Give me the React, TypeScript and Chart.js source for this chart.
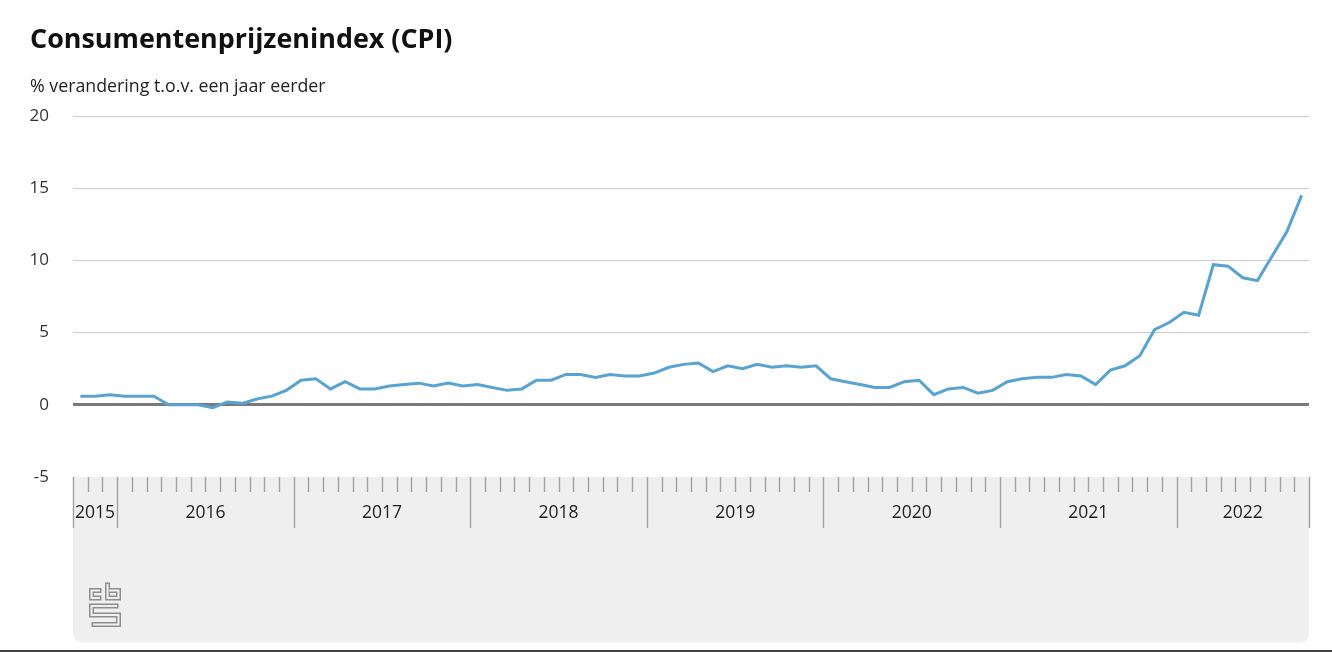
import React, { useEffect, useRef } from 'react';
import { Chart, registerables } from 'chart.js';

Chart.register(...registerables);

const titleText = 'Consumentenprijzenindex (CPI)';
const subtitleText = '% verandering t.o.v. een jaar eerder';

const years = ['2015', '2016', '2017', '2018', '2019', '2020', '2021', '2022'];
const monthNames = ['jan', 'feb', 'mrt', 'apr', 'mei', 'jun', 'jul', 'aug', 'sep', 'okt', 'nov', 'dec'];
const firstMonthIndex = 9; // series starts in okt 2015

const cpi2015 = [0.6, 0.6, 0.7];
const cpi2016 = [0.6, 0.6, 0.6, 0.0, 0.0, 0.0, -0.2, 0.2, 0.1, 0.4, 0.6, 1.0];
const cpi2017 = [1.7, 1.8, 1.1, 1.6, 1.1, 1.1, 1.3, 1.4, 1.5, 1.3, 1.5, 1.3];
const cpi2018 = [1.4, 1.2, 1.0, 1.1, 1.7, 1.7, 2.1, 2.1, 1.9, 2.1, 2.0, 2.0];
const cpi2019 = [2.2, 2.6, 2.8, 2.9, 2.3, 2.7, 2.5, 2.8, 2.6, 2.7, 2.6, 2.7];
const cpi2020 = [1.8, 1.6, 1.4, 1.2, 1.2, 1.6, 1.7, 0.7, 1.1, 1.2, 0.8, 1.0];
const cpi2021 = [1.6, 1.8, 1.9, 1.9, 2.1, 2.0, 1.4, 2.4, 2.7, 3.4, 5.2, 5.7];
const cpi2022 = [6.4, 6.2, 9.7, 9.6, 8.8, 8.6, 10.3, 12.0, 14.5];

const seriesByYear = [cpi2015, cpi2016, cpi2017, cpi2018, cpi2019, cpi2020, cpi2021, cpi2022];

const yMin = -5;
const yMax = 20;
const yStep = 5;

// derived
const labels: string[] = [];
const values: number[] = [];
seriesByYear.forEach((arr, yi) => {
  arr.forEach((v, mi) => {
    const m = yi === 0 ? firstMonthIndex + mi : mi;
    labels.push(monthNames[m] + ' ' + years[yi]);
    values.push(v);
  });
});
const monthsPerYear = seriesByYear.map((a) => a.length);

const FONT = '"Open Sans", "Noto Sans", sans-serif';

const cbsPlugin = {
  id: 'cbsFrame',
  beforeDraw(chart: any) {
    const { ctx, chartArea, scales } = chart;
    const x = scales.x;
    const n = labels.length;
    const left = chartArea.left;
    const right = chartArea.right;
    const top = chartArea.bottom;
    const bottom = 642.5;
    const r = 10;
    ctx.save();
    // grey axis panel
    ctx.fillStyle = '#efefef';
    ctx.beginPath();
    ctx.moveTo(left, top);
    ctx.lineTo(right, top);
    ctx.lineTo(right, bottom - r);
    ctx.quadraticCurveTo(right, bottom, right - r, bottom);
    ctx.lineTo(left + r, bottom);
    ctx.quadraticCurveTo(left, bottom, left, bottom - r);
    ctx.closePath();
    ctx.fill();

    const boundary = (i: number) => {
      if (i <= 0) return left;
      if (i >= n) return right;
      return (x.getPixelForValue(i - 1) + x.getPixelForValue(i)) / 2;
    };
    const yearStarts: number[] = [0];
    monthsPerYear.forEach((c, i) => yearStarts.push(yearStarts[i] + c));

    ctx.strokeStyle = '#a0a0a0';
    ctx.lineWidth = 1.4;
    for (let i = 0; i <= n; i++) {
      const bx = Math.round(boundary(i)) + 0.5;
      const major = yearStarts.includes(i);
      ctx.beginPath();
      ctx.moveTo(bx, top);
      ctx.lineTo(bx, major ? top + 51 : top + 15);
      ctx.stroke();
    }
    // year labels
    ctx.fillStyle = '#222';
    ctx.font = '17.5px ' + FONT;
    ctx.textAlign = 'center';
    ctx.textBaseline = 'middle';
    years.forEach((yr, i) => {
      const cx = (boundary(yearStarts[i]) + boundary(yearStarts[i + 1])) / 2;
      ctx.fillText(yr, cx, top + 36);
    });

    // cbs logo
    const outline = (pts: number[][]) => {
      ctx.lineJoin = 'miter';
      ctx.lineCap = 'butt';
      ctx.strokeStyle = '#8e8e8e';
      ctx.lineWidth = 5;
      ctx.beginPath();
      pts.forEach((p, i) => (i ? ctx.lineTo(p[0], p[1]) : ctx.moveTo(p[0], p[1])));
      ctx.stroke();
      const inner = pts.map((p) => p.slice());
      const shorten = (a: number[], b: number[]) => {
        const dx = b[0] - a[0];
        const dy = b[1] - a[1];
        const len = Math.hypot(dx, dy) || 1;
        a[0] += (dx / len) * 1.6;
        a[1] += (dy / len) * 1.6;
      };
      shorten(inner[0], inner[1]);
      shorten(inner[inner.length - 1], inner[inner.length - 2]);
      ctx.strokeStyle = '#efefef';
      ctx.lineWidth = 2;
      ctx.beginPath();
      inner.forEach((p, i) => (i ? ctx.lineTo(p[0], p[1]) : ctx.moveTo(p[0], p[1])));
      ctx.stroke();
    };
    outline([[101.5, 590.5], [91.5, 590.5], [91.5, 598], [101.5, 598]]);
    outline([[107.5, 582.5], [107.5, 598], [118.5, 598], [118.5, 590.5], [107.5, 590.5]]);
    outline([[118.5, 606], [91.5, 606], [91.5, 615], [118.5, 615], [118.5, 624.5], [91.5, 624.5]]);

    // bottom rule
    ctx.fillStyle = '#444';
    ctx.fillRect(0, 650, chart.width, 2);
    ctx.restore();
  },
};

export default function App() {
  const canvasRef = useRef<HTMLCanvasElement | null>(null);

  useEffect(() => {
    if (!canvasRef.current) return;
    const chart = new Chart(canvasRef.current, {
      type: 'line',
      data: {
        labels,
        datasets: [
          {
            data: values,
            borderColor: '#5aa3d0',
            borderWidth: 3,
            pointRadius: 0,
            fill: false,
            tension: 0,
          },
        ],
      },
      options: {
        animation: false,
        responsive: true,
        maintainAspectRatio: false,
        layout: { padding: { left: 0, right: 23, top: 116, bottom: 0 } },
        plugins: {
          legend: { display: false },
          tooltip: { enabled: false },
          title: { display: false },
        },
        scales: {
          x: {
            type: 'category',
            offset: true,
            grid: { display: false },
            ticks: { display: false },
            border: { display: false },
            afterFit: (s: any) => {
              s.height = 175;
            },
          },
          y: {
            min: yMin,
            max: yMax,
            ticks: {
              stepSize: yStep,
              padding: 24,
              color: '#333',
              font: { family: FONT, size: 17 },
            },
            grid: {
              drawTicks: false,
              color: (c: any) =>
                c.tick && c.tick.value === 0
                  ? '#7a7a7a'
                  : c.tick && c.tick.value === yMin
                  ? 'rgba(0,0,0,0)'
                  : '#cccccc',
              lineWidth: (c: any) => (c.tick && c.tick.value === 0 ? 3 : 1),
            },
            border: { display: false },
            afterFit: (s: any) => {
              s.width = 73;
            },
          },
        },
      },
      plugins: [cbsPlugin],
    });
    return () => chart.destroy();
  }, []);

  return (
    <div style={{ position: 'absolute', left: 0, top: 0, width: 1332, height: 652, background: '#fff' }}>
      <canvas ref={canvasRef} />
      <div
        style={{
          position: 'absolute',
          left: 30,
          top: 25,
          fontFamily: FONT,
          fontWeight: 700,
          fontSize: 26.9,
          lineHeight: 1,
          color: '#111',
          whiteSpace: 'nowrap',
        }}
      >
        {titleText}
      </div>
      <div
        style={{
          position: 'absolute',
          left: 30,
          top: 77,
          fontFamily: FONT,
          fontSize: 17.8,
          lineHeight: 1,
          color: '#222',
          whiteSpace: 'nowrap',
        }}
      >
        {subtitleText}
      </div>
    </div>
  );
}
